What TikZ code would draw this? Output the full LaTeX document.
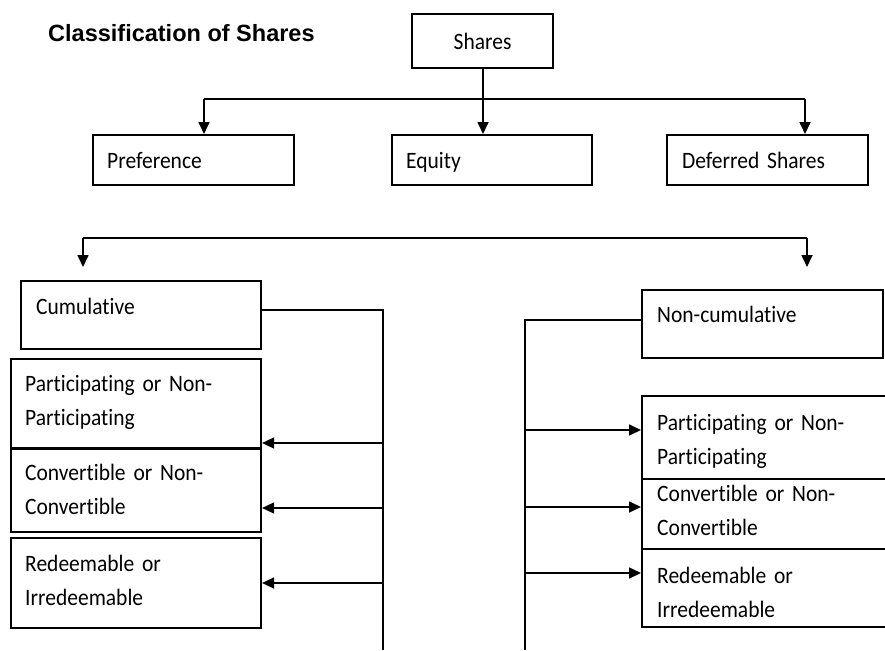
\documentclass[tikz,border=0pt]{standalone}
\usepackage{fontspec}
\setmainfont{Carlito}[FakeStretch=0.915, Ligatures=NoCommon]
\newfontfamily\titlefont{Liberation Sans}
\usetikzlibrary{arrows.meta}
\begin{document}
\begin{tikzpicture}[x=1pt,y=-1pt,
  box/.style={draw, line width=2.1pt, rectangle, inner sep=0pt, anchor=north west},
  lbl/.style={font=\fontsize{23.5}{34}\selectfont, anchor=base west, inner sep=0pt, text width=230pt, align=left},
  conn/.style={line width=1.7pt},
  arr/.style={conn, -{Triangle[length=12pt,width=11pt]}}]
\useasboundingbox (0,0) rectangle (885,650);
\fill[white] (0,0) rectangle (885,650);
\clip (0,0) rectangle (885,650);

% title
\node[font=\titlefont\bfseries\fontsize{23.5}{28}\selectfont, anchor=base west, inner sep=0pt] (title) at (48,42) {Classification of Shares};

% top level
\node[box, minimum width=141pt, minimum height=54pt, font=\fontsize{23.5}{28}\selectfont] (shares) at (411,13) {Shares};
\node[box, minimum width=201pt, minimum height=50pt] (pref) at (92,134) {};
\node[box, minimum width=200pt, minimum height=50pt] (equity) at (391,134) {};
\node[box, minimum width=201pt, minimum height=50pt] (deferred) at (666,134) {};
\node[lbl] (tpref) at (107,168) {Preference};
\node[lbl] (tequity) at (406,168) {Equity};
\node[lbl] (tdeferred) at (682,168) {Deferred Shares};

\coordinate (hL) at (204,99);
\coordinate (hR) at (805,99);
\draw[conn] (hL) -- (hR);
\draw[arr] (hL) -- (hL |- pref.north);
\draw[arr] (hR) -- (hR |- deferred.north);
\draw[arr] (shares.south -| 483,0) -- (equity.north -| 483,0);

% second level
\coordinate (gL) at (83,238);
\coordinate (gR) at (807,238);
\coordinate (gLt) at (83,267);
\coordinate (gRt) at (807,267);
\draw[conn] (gL) -- (gR);
\draw[arr] (gL) -- (gLt);
\draw[arr] (gR) -- (gRt);

% left column
\node[box, minimum width=240pt, minimum height=68pt] (cum) at (20,280) {};
\node[lbl] (tcum) at (36,314) {Cumulative};
\node[box, minimum width=250pt, minimum height=89pt] (partL) at (10,358) {};
\node[lbl] (tpartL) at (25,391) {Participating or Non-\\Participating};
\node[box, minimum width=250pt, minimum height=83pt] (convL) at (10,448) {};
\node[lbl] (tconvL) at (25,480) {Convertible or Non-\\Convertible};
\node[box, minimum width=250pt, minimum height=90pt] (redL) at (10,537) {};
\node[lbl] (tredL) at (25,571) {Redeemable or\\Irredeemable};

\coordinate (vLtop) at (383,310);
\coordinate (vLbot) at (383,650);
\draw[conn] (cum.east |- vLtop) -- (vLtop) -- (vLbot);
\draw[arr] (383,443) -- (partL.east |- 0,443);
\draw[arr] (383,508) -- (convL.east |- 0,508);
\draw[arr] (383,583) -- (redL.east |- 0,583);

% right column
\node[box, minimum width=241pt, minimum height=68pt] (ncum) at (641,289) {};
\node[lbl] (tncum) at (657,322) {Non-cumulative};
\node[box, minimum width=260pt, minimum height=83pt] (partR) at (641,395) {};
\node[lbl] (tpartR) at (657,430) {Participating or Non-\\Participating};
\node[box, minimum width=260pt, minimum height=70pt] (convR) at (641,478) {};
\node[lbl] (tconvR) at (657,501) {Convertible or Non-\\Convertible};
\node[box, minimum width=260pt, minimum height=78pt] (redR) at (641,548) {};
\node[lbl] (tredR) at (657,583) {Redeemable or\\Irredeemable};

\coordinate (vRtop) at (525,320);
\coordinate (vRbot) at (525,650);
\draw[conn] (ncum.west |- vRtop) -- (vRtop) -- (vRbot);
\draw[arr] (525,430) -- (partR.west |- 0,430);
\draw[arr] (525,507) -- (convR.west |- 0,507);
\draw[arr] (525,573) -- (redR.west |- 0,573);
\end{tikzpicture}
\end{document}
